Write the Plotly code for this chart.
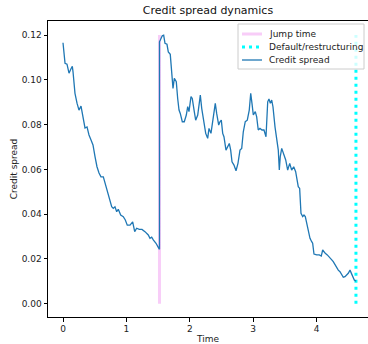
import plotly.graph_objects as go

# Data
time = [0.000, 0.032, 0.063, 0.095, 0.126, 0.147, 0.158, 0.189, 0.221, 0.252,
        0.284, 0.315, 0.347, 0.379, 0.410, 0.442, 0.473, 0.505, 0.536, 0.568,
        0.599, 0.636, 0.662, 0.699, 0.730, 0.768, 0.793, 0.820, 0.847, 0.872,
        0.910, 0.951, 0.983, 1.014, 1.057, 1.099, 1.131, 1.162, 1.203, 1.246,
        1.293, 1.345, 1.372, 1.399, 1.424, 1.467, 1.503, 1.522,
        1.522, 1.566, 1.588, 1.609, 1.640, 1.661, 1.692, 1.714, 1.735, 1.756,
        1.787, 1.809, 1.830, 1.850, 1.882, 1.913, 1.945, 1.967, 1.987, 2.019,
        2.039, 2.071, 2.093, 2.125, 2.166, 2.188, 2.219, 2.251, 2.282, 2.303,
        2.334, 2.371, 2.402, 2.424, 2.456, 2.476, 2.497, 2.519, 2.539, 2.571,
        2.592, 2.623, 2.645, 2.666, 2.697, 2.729, 2.760, 2.792, 2.819, 2.844,
        2.875, 2.907, 2.938, 2.961, 2.981, 3.002, 3.033, 3.055, 3.080, 3.107,
        3.139, 3.170, 3.202, 3.229, 3.249, 3.270, 3.292, 3.312, 3.344, 3.375,
        3.396, 3.412, 3.427, 3.450, 3.481, 3.513, 3.544, 3.576, 3.607, 3.639,
        3.670, 3.691, 3.711, 3.733, 3.754, 3.781, 3.801, 3.822, 3.844, 3.869,
        3.896, 3.923, 3.938, 3.959, 4.002, 4.043, 4.074, 4.096, 4.117, 4.137,
        4.169, 4.200, 4.222, 4.243, 4.263, 4.290, 4.317, 4.342, 4.369, 4.396,
        4.421, 4.448, 4.475, 4.500, 4.527, 4.543, 4.569, 4.595, 4.621]

spread = [0.1166, 0.1074, 0.1070, 0.1030, 0.1050, 0.1060, 0.1036, 0.0940, 0.0896, 0.0865,
          0.0883, 0.0835, 0.0785, 0.0790, 0.0754, 0.0731, 0.0709, 0.0657, 0.0612, 0.0584,
          0.0567, 0.0567, 0.0540, 0.0508, 0.0478, 0.0433, 0.0426, 0.0433, 0.0411, 0.0422,
          0.0396, 0.0389, 0.0374, 0.0351, 0.0351, 0.0366, 0.0322, 0.0337, 0.0332, 0.0332,
          0.0322, 0.0307, 0.0292, 0.0297, 0.0285, 0.0270, 0.0252, 0.0243,
          0.1170, 0.1197, 0.1200, 0.1163, 0.1159, 0.1125, 0.1114, 0.1051, 0.0962, 0.1007,
          0.0992, 0.0917, 0.0865, 0.0850, 0.0813, 0.0813, 0.0843, 0.0880, 0.0858, 0.0925,
          0.0917, 0.0858, 0.0820, 0.0843, 0.0932, 0.0873, 0.0813, 0.0761, 0.0739, 0.0783,
          0.0761, 0.0835, 0.0895, 0.0850, 0.0798, 0.0813, 0.0820, 0.0761, 0.0746, 0.0686,
          0.0701, 0.0716, 0.0686, 0.0634, 0.0619, 0.0594, 0.0627, 0.0686, 0.0694, 0.0768,
          0.0813, 0.0820, 0.0865, 0.0940, 0.0895, 0.0843, 0.0858, 0.0835, 0.0776, 0.0783,
          0.0776, 0.0776, 0.0746, 0.0902, 0.0915, 0.0895, 0.0910, 0.0880, 0.0790, 0.0731,
          0.0686, 0.0597, 0.0657, 0.0694, 0.0672, 0.0642, 0.0597, 0.0627, 0.0597, 0.0612,
          0.0590, 0.0560, 0.0523, 0.0515, 0.0404, 0.0389, 0.0396, 0.0389, 0.0359, 0.0329,
          0.0292, 0.0277, 0.0270, 0.0222, 0.0218, 0.0218, 0.0213, 0.0240, 0.0232, 0.0225,
          0.0218, 0.0210, 0.0203, 0.0195, 0.0188, 0.0173, 0.0158, 0.0150, 0.0143, 0.0128,
          0.0118, 0.0121, 0.0128, 0.0136, 0.0150, 0.0138, 0.0118, 0.0106, 0.0101]

jump_time = 1.522
default_time = 4.621
vline_range = [0.0, 0.12]

x_ticks = [0, 1, 2, 3, 4]
y_ticks = [0.00, 0.02, 0.04, 0.06, 0.08, 0.10, 0.12]

legend_names = ["Jump time", "Default/restructuring", "Credit spread"]

font = "DejaVu Sans"
W, H = 368, 344
ML, MR, MT, MB = 48, 0, 21, 27
PW, PH = W - ML - MR, H - MT - MB


def px_x(p):
    return (p - ML) / PW


def px_y(p):
    return (H - MB - p) / PH


styles = [
    dict(color="rgba(238,130,238,0.4)", width=3),
    dict(color="#00ffff", width=3, dash="3px,4px"),
    dict(color="#1f77b4", width=1.3),
]

fig = go.Figure()
fig.add_trace(go.Scatter(x=[jump_time, jump_time], y=vline_range, mode="lines",
                         name=legend_names[0], line=styles[0]))
fig.add_trace(go.Scatter(x=[default_time, default_time], y=vline_range, mode="lines",
                         name=legend_names[1], line=styles[1]))
fig.add_trace(go.Scatter(x=time, y=spread, mode="lines",
                         name=legend_names[2], line=styles[2]))

# Matplotlib-style legend box drawn in paper coordinates
shapes = [dict(type="rect", xref="paper", yref="paper",
               x0=px_x(238), x1=px_x(364), y0=px_y(69), y1=px_y(24),
               fillcolor="rgba(255,255,255,0.8)", line=dict(color="#cccccc", width=1),
               layer="above")]
annotations = []
for i, (name, st) in enumerate(zip(legend_names, styles)):
    yy = 34 + 13 * i
    shapes.append(dict(type="line", xref="paper", yref="paper",
                       x0=px_x(242), x1=px_x(262), y0=px_y(yy), y1=px_y(yy),
                       line=st, layer="above"))
    annotations.append(dict(text=name, xref="paper", yref="paper",
                            x=px_x(267), y=px_y(yy), xanchor="left", yanchor="middle",
                            showarrow=False, font=dict(size=9, color="#222")))

fig.update_layout(
    width=W, height=H,
    margin=dict(l=ML, r=MR, t=MT, b=MB, autoexpand=False),
    paper_bgcolor="white", plot_bgcolor="white",
    font=dict(family=font, size=9, color="#222"),
    title=dict(text="Credit spread dynamics", x=(ML + PW / 2) / W,
               xanchor="center", y=1 - 10.5 / H, yanchor="middle",
               font=dict(size=11, color="#111")),
    showlegend=False,
    shapes=shapes, annotations=annotations,
)

fig.update_xaxes(
    range=[-0.2366, 4.811], tickvals=x_ticks, ticktext=[str(v) for v in x_ticks],
    showgrid=False, zeroline=False, showline=True, linecolor="black",
    linewidth=1, mirror=True, ticks="outside", ticklen=3.5, tickcolor="black",
    title=dict(text="Time", font=dict(size=9), standoff=4))
fig.update_yaxes(
    range=[-0.00594, 0.1263], tickvals=y_ticks, ticktext=[f"{v:.2f}" for v in y_ticks],
    showgrid=False, zeroline=False, showline=True, linecolor="black",
    linewidth=1, ticks="outside", ticklen=3.5, tickcolor="black",
    title=dict(text="Credit spread", font=dict(size=9), standoff=2))

fig.write_html("out.html")
